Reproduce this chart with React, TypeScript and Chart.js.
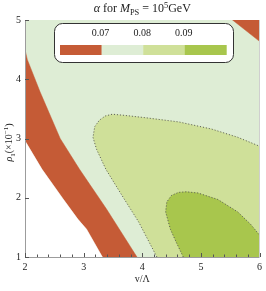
import React, { useEffect, useRef } from "react";
import { Chart, registerables } from "chart.js";

Chart.register(...registerables);

// ---- data ----
const xRange = [2, 6];
const yRange = [1, 5];
const xMajorTicks = [2, 3, 4, 5, 6];
const yMajorTicks = [1, 2, 3, 4, 5];

// alpha = 0.07 contour: upper edge of red band
const redUpperV = [2.0, 2.04, 2.26, 2.6, 2.93, 3.39, 3.91];
const redUpperRho = [4.5, 4.33, 3.78, 3.0, 2.48, 1.81, 1.0];
// lower edge of red band (white region boundary)
const redLowerV = [2.0, 2.29, 2.65, 2.9, 3.05, 3.32];
const redLowerRho = [2.96, 2.48, 1.98, 1.64, 1.47, 1.0];
// alpha = 0.08 contour
const c08V = [4.25, 3.94, 3.66, 3.38, 3.22, 3.16, 3.19, 3.27, 3.37, 3.49, 3.7, 4.06, 4.62, 5.18, 5.63, 6.0];
const c08Rho = [1.0, 1.59, 2.03, 2.48, 2.82, 3.02, 3.2, 3.31, 3.38, 3.41, 3.39, 3.35, 3.28, 3.16, 3.02, 2.87];
// alpha = 0.09 contour
const c09V = [4.7, 4.58, 4.48, 4.4, 4.42, 4.5, 4.62, 4.75, 4.95, 5.29, 5.63, 5.85, 6.0];
const c09Rho = [1.0, 1.25, 1.47, 1.76, 1.93, 2.04, 2.09, 2.1, 2.08, 1.97, 1.76, 1.55, 1.37];
// top-right red corner
const cornerV = [5.54, 6.0, 6.0];
const cornerRho = [5.0, 5.0, 4.64];

const legendLevels = ["0.07", "0.08", "0.09"];
const legendColors = ["#c55b36", "#deedd5", "#cfe099", "#a8c64d"];

const RED = "#c55b36";
const LIGHT = "#deedd5";
const MID = "#cfe099";
const DARK = "#a8c64d";
const SERIF = "'Liberation Serif', 'DejaVu Serif', serif";

const pts = (xs: number[], ys: number[]) => xs.map((x, i) => ({ x, y: ys[i] }));
const close = (p: { x: number; y: number }[]) => [...p, p[0]];

type Piece = { t: string; it?: boolean; sc?: number; dy?: number };

function drawRich(ctx: CanvasRenderingContext2D, pieces: Piece[], size: number, cx: number, baseY: number) {
  const fontOf = (p: Piece) => `${p.it ? "italic " : ""}${size * (p.sc || 1)}px ${SERIF}`;
  let total = 0;
  const widths = pieces.map((p) => {
    ctx.font = fontOf(p);
    const w = ctx.measureText(p.t).width;
    total += w;
    return w;
  });
  let x = cx - total / 2;
  ctx.textBaseline = "alphabetic";
  ctx.textAlign = "left";
  pieces.forEach((p, i) => {
    ctx.font = fontOf(p);
    ctx.fillText(p.t, x, baseY + (p.dy || 0));
    x += widths[i];
  });
}

const decorPlugin = {
  id: "decor",
  afterDraw(chart: any) {
    const ctx: CanvasRenderingContext2D = chart.ctx;
    const { left, right, top, bottom } = chart.chartArea;
    const xs = chart.scales.x;
    const ys = chart.scales.y;
    ctx.save();
    // faint right frame
    ctx.strokeStyle = "#cfcfcf";
    ctx.lineWidth = 1;
    ctx.beginPath();
    ctx.moveTo(Math.round(right) - 0.5, top);
    ctx.lineTo(Math.round(right) - 0.5, bottom);
    ctx.stroke();
    // axes
    ctx.strokeStyle = "#9c9c9c";
    ctx.beginPath();
    ctx.moveTo(left + 0.5, top);
    ctx.lineTo(left + 0.5, bottom + 0.5);
    ctx.lineTo(right, bottom + 0.5);
    ctx.stroke();
    // x ticks (major + 4 minor)
    ctx.strokeStyle = "#555";
    ctx.beginPath();
    for (let i = 0; i < xMajorTicks.length; i++) {
      const px = Math.round(xs.getPixelForValue(xMajorTicks[i])) + 0.5;
      ctx.moveTo(px, bottom);
      ctx.lineTo(px, bottom - 4);
      if (i < xMajorTicks.length - 1) {
        const step = (xMajorTicks[i + 1] - xMajorTicks[i]) / 5;
        for (let k = 1; k < 5; k++) {
          const mx = Math.round(xs.getPixelForValue(xMajorTicks[i] + k * step)) + 0.5;
          ctx.moveTo(mx, bottom);
          ctx.lineTo(mx, bottom - 2.5);
        }
      }
    }
    for (const v of yMajorTicks) {
      const py = Math.round(ys.getPixelForValue(v)) + 0.5;
      ctx.moveTo(left, py);
      ctx.lineTo(left + 4, py);
    }
    ctx.stroke();

    // legend box
    const bx = 54, by = 23, bw = 179, bh = 39, r = 8;
    ctx.fillStyle = "#ffffff";
    ctx.strokeStyle = "#333";
    ctx.lineWidth = 1;
    ctx.beginPath();
    ctx.roundRect(bx + 0.5, by + 0.5, bw, bh, r);
    ctx.fill();
    ctx.stroke();
    const barX = 60, barY = 45, segW = 41.6, barH = 10;
    legendColors.forEach((c, i) => {
      ctx.fillStyle = c;
      ctx.fillRect(barX + i * segW, barY, segW + 0.3, barH);
    });
    ctx.fillStyle = "#222";
    ctx.font = `10px ${SERIF}`;
    ctx.textAlign = "center";
    ctx.textBaseline = "middle";
    legendLevels.forEach((t, i) => {
      ctx.fillText(t, barX + (i + 1) * segW - 1, 33);
    });

    // title
    ctx.fillStyle = "#222";
    drawRich(
      ctx,
      [
        { t: "α", it: true },
        { t: " for " },
        { t: "M", it: true },
        { t: "PS", sc: 0.7, dy: 2.5 },
        { t: " = 10" },
        { t: "5", sc: 0.7, dy: -4.5 },
        { t: "GeV" },
      ],
      12,
      (left + right) / 2,
      12
    );

    // y-axis title (rotated)
    ctx.save();
    ctx.translate(12, (top + bottom) / 2 + 4);
    ctx.rotate(-Math.PI / 2);
    drawRich(
      ctx,
      [
        { t: "ρ", it: true },
        { t: "1", sc: 0.7, dy: 2.5 },
        { t: "(×10" },
        { t: "−1", sc: 0.7, dy: -4 },
        { t: ")" },
      ],
      10,
      0,
      0
    );
    ctx.restore();
    ctx.restore();
  },
};

export default function App() {
  const ref = useRef<HTMLCanvasElement | null>(null);
  useEffect(() => {
    if (!ref.current) return;
    const bg = close([
      { x: xRange[0], y: yRange[0] },
      { x: xRange[1], y: yRange[0] },
      { x: xRange[1], y: yRange[1] },
      { x: xRange[0], y: yRange[1] },
    ]);
    const mid = close([...pts(c08V, c08Rho), { x: xRange[1], y: yRange[0] }]);
    const dark = close([...pts(c09V, c09Rho), { x: xRange[1], y: yRange[0] }]);
    const redBand = close([...pts(redUpperV, redUpperRho), ...pts(redLowerV, redLowerRho).reverse()]);
    const white = close([...pts(redLowerV, redLowerRho), { x: xRange[0], y: yRange[0] }]);
    const corner = close(pts(cornerV, cornerRho));

    const fillDs = (data: any[], color: string, order: number) => ({
      data,
      fill: "shape",
      backgroundColor: color,
      borderColor: color,
      borderWidth: 0.5,
      pointRadius: 0,
      tension: 0,
      order,
    });
    const lineDs = (data: any[]) => ({
      data,
      fill: false,
      borderColor: "#5a5a5a",
      borderWidth: 1,
      borderDash: [1, 2],
      pointRadius: 0,
      tension: 0,
      order: 1,
    });

    const chart = new Chart(ref.current, {
      type: "line",
      data: {
        datasets: [
          fillDs(bg, LIGHT, 10),
          fillDs(mid, MID, 9),
          fillDs(dark, DARK, 8),
          fillDs(redBand, RED, 7),
          fillDs(white, "#ffffff", 6),
          fillDs(corner, RED, 5),
          lineDs(pts(c08V, c08Rho)),
          lineDs(pts(c09V, c09Rho)),
        ] as any,
      },
      options: {
        animation: false,
        responsive: false,
        devicePixelRatio: 1,
        layout: { padding: { top: 20, right: 4, bottom: 0, left: 0 } },
        plugins: { legend: { display: false }, tooltip: { enabled: false }, title: { display: false } },
        scales: {
          x: {
            type: "linear",
            min: xRange[0],
            max: xRange[1],
            grid: { display: false, drawTicks: false },
            border: { display: false },
            ticks: {
              stepSize: 1,
              padding: 4,
              autoSkip: false,
              maxRotation: 0,
              color: "#222",
              font: { family: SERIF, size: 10 },
            },
            title: {
              display: true,
              text: "v/Λ",
              color: "#222",
              font: { family: SERIF, size: 10 },
              padding: { top: 0, bottom: 6 },
            },
            afterFit: (s: any) => {
              s.height = 34;
            },
          },
          y: {
            type: "linear",
            min: yRange[0],
            max: yRange[1],
            grid: { display: false, drawTicks: false },
            border: { display: false },
            ticks: {
              stepSize: 1,
              padding: 4,
              color: "#222",
              font: { family: SERIF, size: 10 },
            },
            afterFit: (s: any) => {
              s.width = 25;
            },
          },
        },
      } as any,
      plugins: [decorPlugin],
    });
    return () => chart.destroy();
  }, []);
  return (
    <div style={{ position: "absolute", left: 0, top: 0, width: 266, height: 291, background: "#fff" }}>
      <canvas ref={ref} width={266} height={291} />
    </div>
  );
}
